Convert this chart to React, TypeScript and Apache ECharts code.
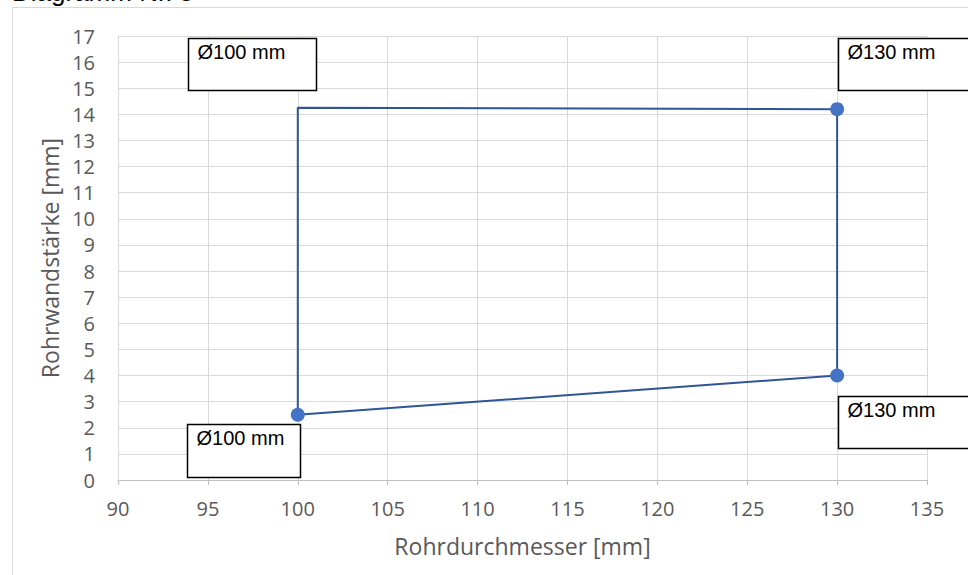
import React, { useEffect, useRef } from "react";
import * as echarts from "echarts";

const xValues = [100, 130, 130, 100, 100];
const yValues = [2.5, 4.0, 14.2, 14.25, 2.5];
const markerShown = [true, true, true, false, false];
const labelTexts = ["Ø100 mm", "Ø130 mm", "Ø130 mm", "Ø100 mm"];
const xAxisName = "Rohrdurchmesser [mm]";
const yAxisName = "Rohrwandstärke [mm]";
const titleText = "Diagramm Nr. 5";

// label box placement relative to the point: [dx, dy, width, height]
const labelBoxes = [
  [-111, 9, 113, 53],
  [1, 20, 135, 52],
  [1, -71, 135, 52],
  [-110, -70, 128, 52],
];

export default function App() {
  const ref = useRef<HTMLDivElement>(null);
  useEffect(() => {
    const chart = echarts.init(ref.current!, null, { renderer: "svg" });
    const tickFont = { color: "#595959", fontFamily: "Open Sans", fontSize: 20 };
    const nameFont = { color: "#595959", fontFamily: "Open Sans", fontSize: 23 };
    const data = xValues.map((x, i) => ({
      value: [x, yValues[i]],
      symbolSize: markerShown[i] ? 14 : 0,
    }));
    chart.setOption({
      animation: false,
      grid: { left: 118, right: 41, top: 36, bottom: 95 },
      xAxis: {
        type: "value",
        min: 90,
        max: 135,
        interval: 5,
        name: xAxisName,
        nameLocation: "middle",
        nameGap: 54,
        nameTextStyle: nameFont,
        axisLine: { show: true, lineStyle: { color: "#bfbfbf", width: 1 } },
        axisTick: { show: true, length: 5, lineStyle: { color: "#bfbfbf" } },
        axisLabel: { ...tickFont, margin: 18 },
        splitLine: { show: true, lineStyle: { color: "#d9d9d9", width: 1 } },
      },
      yAxis: {
        type: "value",
        min: 0,
        max: 17,
        interval: 1,
        name: yAxisName,
        nameLocation: "middle",
        nameGap: 55,
        nameTextStyle: nameFont,
        axisLine: { show: false },
        axisTick: { show: false },
        axisLabel: { ...tickFont, margin: 23 },
        splitLine: { show: true, lineStyle: { color: "#d9d9d9", width: 1 } },
      },
      series: [
        {
          type: "line",
          data,
          symbol: "circle",
          showSymbol: true,
          itemStyle: { color: "#4472c4" },
          lineStyle: { color: "#2f5597", width: 2 },
          z: 3,
        },
      ],
    });

    const graphics: any[] = [
      {
        type: "rect",
        shape: { x: 12.5, y: 7.5, width: 1000, height: 600 },
        style: { fill: "none", stroke: "#d9d9d9", lineWidth: 1 },
        silent: true,
        z: -1,
      },
      {
        type: "text",
        x: 12,
        y: -8,
        style: {
          text: titleText,
          fontFamily: "Liberation Sans",
          fontSize: 26,
          fill: "#000000",
          verticalAlign: "middle",
        },
      },
    ];
    labelTexts.forEach((t, i) => {
      const p = chart.convertToPixel({ gridIndex: 0 }, [xValues[i], yValues[i]]);
      const [dx, dy, w, h] = labelBoxes[i];
      const bx = Math.round(p[0] + dx) + 0.5;
      const by = Math.round(p[1] + dy) + 0.5;
      graphics.push({
        type: "rect",
        shape: { x: bx, y: by, width: w, height: h },
        style: { fill: "#ffffff", stroke: "#000000", lineWidth: 1.5 },
        z: 10,
      });
      graphics.push({
        type: "text",
        x: bx + 9,
        y: by + 3,
        style: {
          text: t,
          fontFamily: "Liberation Sans",
          fontSize: 20,
          fill: "#000000",
          verticalAlign: "top",
        },
        z: 11,
      });
    });
    chart.setOption({ graphic: graphics });
    return () => chart.dispose();
  }, []);
  return <div ref={ref} style={{ width: 968, height: 575, position: "absolute", left: 0, top: 0 }} />;
}
